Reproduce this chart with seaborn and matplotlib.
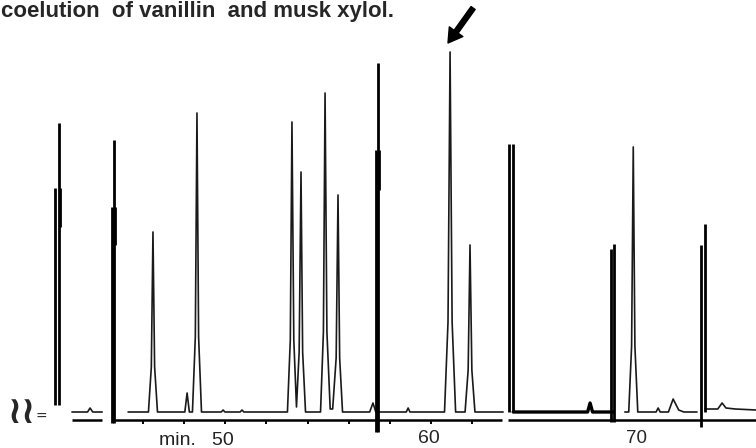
import numpy as np
import pandas as pd
import matplotlib
matplotlib.use("Agg")
import matplotlib.pyplot as plt
import seaborn as sns

sns.set_theme(style="white")
plt.rcParams['font.family'] = ['Liberation Sans', 'DejaVu Sans']

# ---- chromatogram trace (retention time in min, detector signal in arbitrary units) ----
seg_a_time = [42.54, 43.30, 43.42, 43.55, 44.01]
seg_a_signal = [0, 0, 4, 0, 0]

seg_b_time = [45.27, 46.26, 46.40, 46.48, 46.56, 46.70,
              48.03, 48.14, 48.25,
              48.40, 48.54, 48.62, 48.70, 48.84,
              49.80, 49.89, 49.98, 50.72, 50.81, 50.90,
              53.02, 53.16, 53.24, 53.33, 53.46, 53.59, 53.68, 53.76, 53.90,
              54.63, 54.77, 54.85, 54.94, 55.10, 55.22, 55.39, 55.48, 55.56, 55.70,
              57.02, 57.18, 57.32, 58.80, 58.89, 58.98,
              60.66, 60.83, 60.93, 61.03, 61.20,
              61.66, 61.81, 61.90, 61.99, 62.14, 63.51]
seg_b_signal = [0, 0, 45, 180, 45, 0,
                0, 19, 0,
                0, 75, 299, 75, 0,
                0, 2, 0, 0, 2, 0,
                0, 72, 290, 72, 5, 60, 240, 60, 0,
                0, 80, 319, 80, 3, 3, 54, 217, 54, 0,
                0, 9, 0, 0, 4, 0,
                0, 90, 360, 90, 0,
                0, 42, 167, 42, 0, 0]

seg_c_time = [64.00, 67.62, 67.74, 67.86, 68.86]
seg_c_signal = [0, 0, 9, 0, 0]

seg_d_time = [69.43, 69.62, 69.76, 69.84, 69.92, 70.06, 70.95, 71.05, 71.15,
              71.55, 71.78, 72.05, 72.30, 72.94]
seg_d_signal = [0, 0, 66, 265, 66, 0, 0, 4, 0,
                0, 13, 2, 0, 0]

seg_e_time = [73.33, 73.95, 74.16, 74.35, 74.80, 75.81]
seg_e_signal = [3, 3, 9, 4, 3, 2]

# ---- splice marks (double vertical strokes) ----
splice_time = [41.72, 41.91, 44.49, 44.59, 57.33, 57.43, 63.80, 63.99, 68.76, 68.91, 73.13, 73.33]
splice_top = [224, 289, 205, 272, 262, 349, 268, 268, 163, 168, 167, 188]
splice_bottom = [7, 7, -11, -11, -20, -20, 0, 0, -10, -10, -15, 0]
thick_time = [41.97, 44.63, 57.48]
thick_top = [224, 205, 262]
thick_bottom = [185, 167, 222]

# ---- time axis ----
axis_start = [42.54, 44.64, 63.75]
axis_end = [44.01, 63.46, 75.85]
tick_times = [46, 48, 50, 52, 54, 56, 58, 60, 62]
tick_labels = ["min.   50", "60", "70"]
tick_label_times = [50.40, 59.91, 70.02]

title = "coelution  of vanillin  and musk xylol."

fig = plt.figure(figsize=(7.56, 4.48), dpi=100)
ax = fig.add_axes([0, 0, 1, 1])
ax.set_xlim(39.04, 75.81)
ax.set_ylim(-36, 412)
ax.axis('off')

frames = []
for name, t, s in [('a', seg_a_time, seg_a_signal), ('b', seg_b_time, seg_b_signal),
                   ('c', seg_c_time, seg_c_signal), ('d', seg_d_time, seg_d_signal),
                   ('e', seg_e_time, seg_e_signal)]:
    frames.append(pd.DataFrame({'time': t, 'signal': s, 'segment': name}))
trace = pd.concat(frames, ignore_index=True)

sns.lineplot(data=trace[trace.segment != 'c'], x='time', y='signal', units='segment',
             estimator=None, sort=False, color='#1a1a1a', lw=1.2, ax=ax, legend=False)
sns.lineplot(data=trace[trace.segment == 'c'], x='time', y='signal', units='segment',
             estimator=None, sort=False, color='black', lw=2.4, ax=ax, legend=False)

ax.vlines(splice_time, splice_bottom, splice_top, colors='black', lw=2.0)
ax.vlines(thick_time, thick_bottom, thick_top, colors='black', lw=2.0)

ax.hlines([-7.5] * len(axis_start), axis_start, axis_end, colors='black', lw=1.8)
ax.vlines(tick_times, -11.5, -7.5, colors='black', lw=1.4)

ax.text(tick_label_times[0], -28, tick_labels[0], ha='right', va='center', fontsize=14,
        color='#222222')
ax.text(tick_label_times[1], -26, tick_labels[1], ha='center', va='center', fontsize=14)
ax.text(tick_label_times[2], -26, tick_labels[2], ha='center', va='center', fontsize=13.5)

# axis break symbol
ax.text(40.11, -1, "≀≀", ha='center', va='center', fontsize=27, fontweight='bold',
        family=['DejaVu Sans'])
ax.text(41.04, -5, "=", ha='center', va='center', fontsize=10, family=['DejaVu Sans'])

# arrow marking the coelution peak
ax.annotate('', xy=(60.83, 369), xytext=(62.05, 404),
            arrowprops=dict(facecolor='black', edgecolor='black', width=3.6,
                            headwidth=12, headlength=10, shrink=0))

fig.text(0.001, 1 - 17.5 / 448, title, fontsize=16, fontweight='bold',
         ha='left', va='baseline')

fig.savefig('out.png', dpi=100)
